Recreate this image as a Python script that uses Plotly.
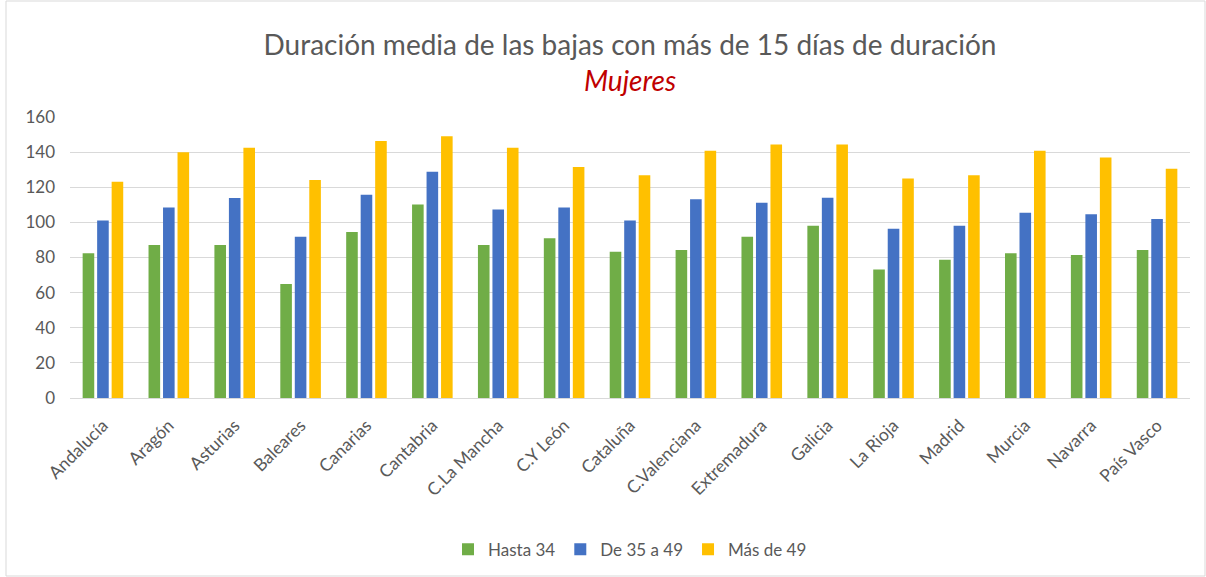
import plotly.graph_objects as go

categories = ["Andalucía", "Aragón", "Asturias", "Baleares", "Canarias", "Cantabria",
              "C.La Mancha", "C.Y León", "Cataluña", "C.Valenciana", "Extremadura",
              "Galicia", "La Rioja", "Madrid", "Murcia", "Navarra", "País Vasco"]
hasta_34 = [82.4, 87.1, 87.1, 64.9, 94.5, 110.2, 87.1, 90.9, 83.3, 84.3, 91.8,
            98.1, 73.2, 78.7, 82.4, 81.4, 84.3]
de_35_a_49 = [101.0, 108.4, 113.9, 91.8, 115.7, 128.8, 107.4, 108.4, 101.0, 113.1, 111.2,
              114.0, 96.4, 98.1, 105.5, 104.6, 101.9]
mas_de_49 = [123.2, 139.9, 142.5, 124.1, 146.3, 149.1, 142.5, 131.5, 126.8, 140.8, 144.4,
             144.4, 125.0, 126.8, 140.8, 137.0, 130.6]
series_names = ["Hasta 34", "De 35 a 49", "Más de 49"]
y_ticks = [0, 20, 40, 60, 80, 100, 120, 140, 160]

colors = ["#70AD47", "#4472C4", "#FFC000"]
FONT = "Lato, 'Open Sans', sans-serif"

fig = go.Figure()
for name, vals, c in zip(series_names, [hasta_34, de_35_a_49, mas_de_49], colors):
    fig.add_trace(go.Bar(x=categories, y=vals, name=name,
                         marker=dict(color=c, line=dict(width=0))))

fig.update_layout(
    width=1206, height=577,
    paper_bgcolor="white", plot_bgcolor="white",
    font=dict(family=FONT, color="#595959"),
    barmode="group", bargap=0.34, bargroupgap=0.2,
    margin=dict(l=70, r=16, t=117, b=179, autoexpand=False),
    title=dict(
        text="Duración media de las bajas con más de 15 días de duración<br>"
             "<span style='color:#C00000'><i>Mujeres</i></span>",
        x=0.5, xanchor="center", xref="paper",
        y=0.905, yanchor="middle",
        font=dict(size=28, color="#595959", family=FONT)),
    xaxis=dict(tickangle=-45, tickfont=dict(size=17.5, color="#595959"),
               showgrid=False, showline=False, ticks="", automargin=False,
               ticklabelstandoff=13),
    yaxis=dict(range=[0, 160], tickvals=y_ticks, tickfont=dict(size=17, color="#595959"),
               showgrid=True, gridcolor="#D9D9D9", gridwidth=1,
               zeroline=True, zerolinecolor="#D9D9D9", zerolinewidth=1,
               showline=False, ticks="", ticklabelstandoff=14, automargin=False),
    legend=dict(orientation="h", x=0.5, xanchor="center", y=-0.54, yanchor="middle",
                font=dict(size=17, color="#595959"), itemwidth=30,
                traceorder="normal"),
    shapes=[dict(type="rect", xref="paper", yref="paper",
                 x0=(6 - 70) / 1120, x1=(1205 - 70) / 1120,
                 y0=(398 - 576) / 281, y1=(398 - 1) / 281,
                 line=dict(color="#D9D9D9", width=1), fillcolor="rgba(0,0,0,0)", layer="below")],
)

fig.write_html("out.html", config={"displayModeBar": False},
               post_script="document.body.style.margin='0';")
